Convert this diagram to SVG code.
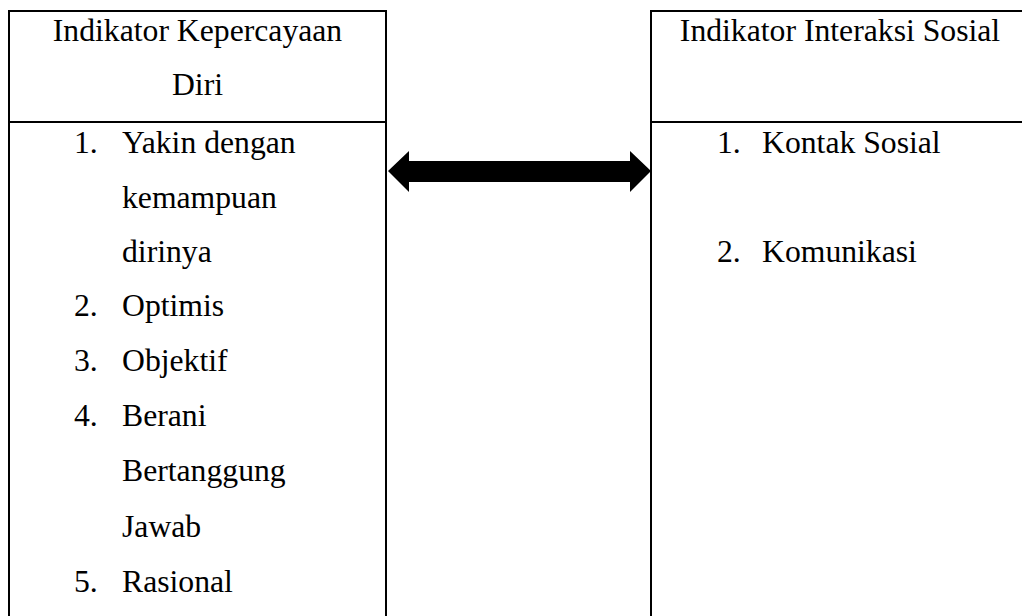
<svg xmlns="http://www.w3.org/2000/svg" width="1022" height="616" viewBox="0 0 1022 616">
<style>
.t{font-family:"Liberation Serif","Times New Roman",serif;font-size:31.7px;fill:#000}
.c{text-anchor:middle}
.b{fill:none;stroke:#000;stroke-width:2}
</style>
<rect width="1022" height="616" fill="#fff"/>
<g id="node-left">
<path class="b" d="M9,640 V11 H386 V640 M9,122 H386"/>
<text class="t c" x="197.5" y="41">Indikator Kepercayaan</text>
<text class="t c" x="197.5" y="95">Diri</text>
<text class="t" x="74" y="153">1.</text><text class="t" x="122" y="153">Yakin dengan</text>
<text class="t" x="122" y="208">kemampuan</text>
<text class="t" x="122" y="262">dirinya</text>
<text class="t" x="74" y="316">2.</text><text class="t" x="122" y="316">Optimis</text>
<text class="t" x="74" y="371">3.</text><text class="t" x="122" y="371">Objektif</text>
<text class="t" x="74" y="426">4.</text><text class="t" x="122" y="426">Berani</text>
<text class="t" x="122" y="481">Bertanggung</text>
<text class="t" x="122" y="537">Jawab</text>
<text class="t" x="74" y="592">5.</text><text class="t" x="122" y="592">Rasional</text>
</g>
<g id="node-right">
<path class="b" d="M651,640 V11 H1040 M651,122 H1040"/>
<text class="t c" x="840" y="41">Indikator Interaksi Sosial</text>
<text class="t" x="717" y="153">1.</text><text class="t" x="762" y="153">Kontak Sosial</text>
<text class="t" x="717" y="262">2.</text><text class="t" x="762" y="262">Komunikasi</text>
</g>
<g id="connectors">
<polygon points="388,171 409,151 409,161 630,161 630,151 651,171 630,192 630,182 409,182 409,192" fill="#000"/>
</g>
</svg>
